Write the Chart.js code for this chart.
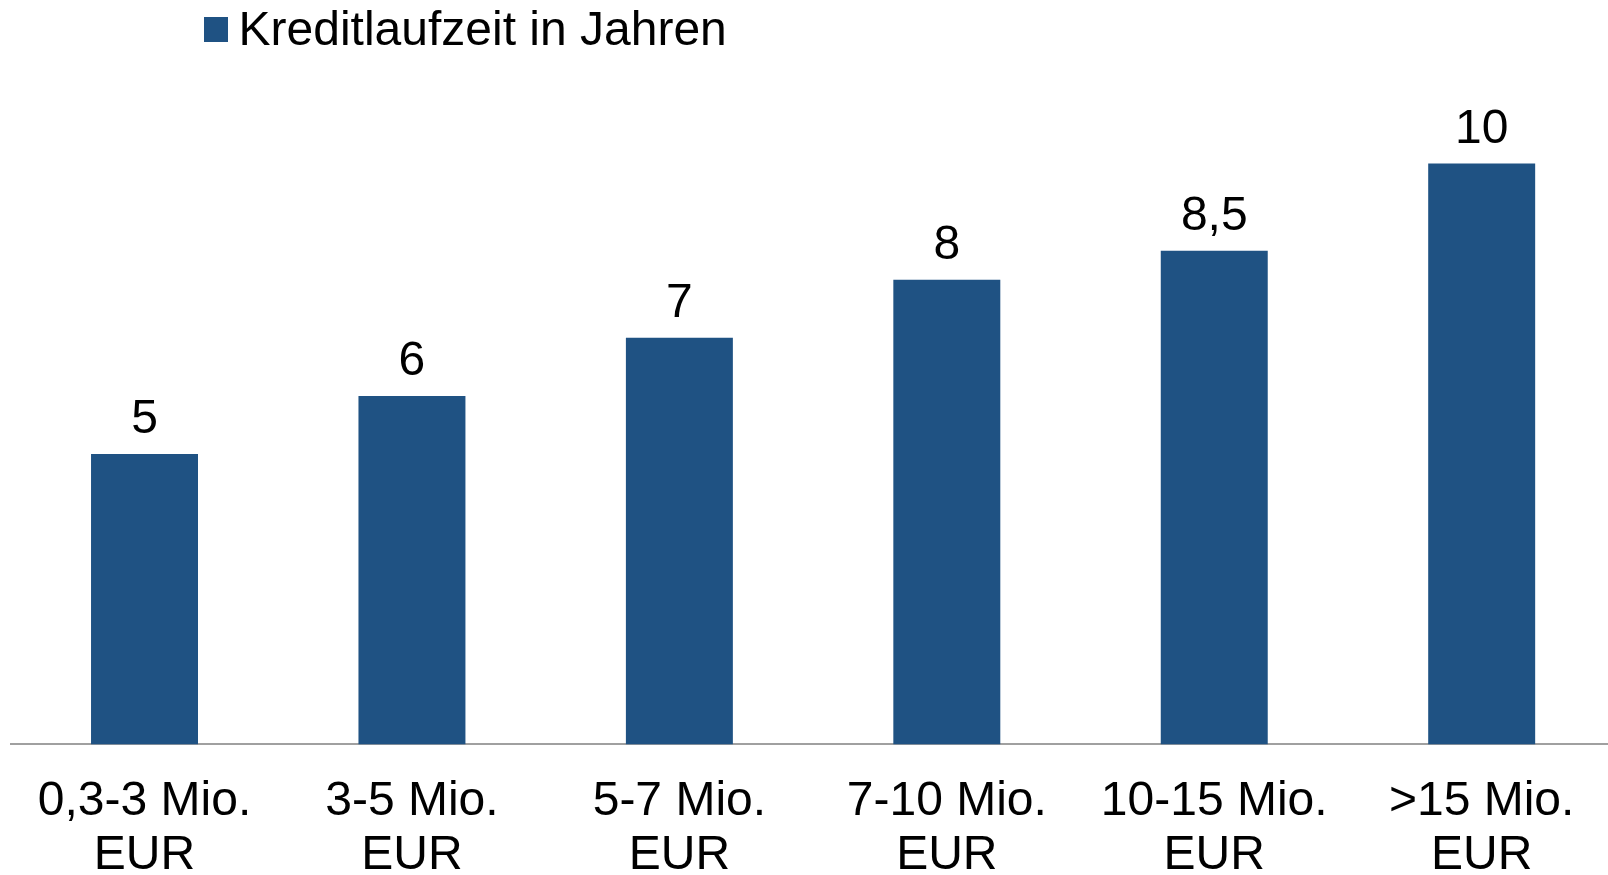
<!DOCTYPE html>
<html>
<head>
<meta charset="utf-8">
<script src="https://cdn.jsdelivr.net/npm/chart.js@4"></script>
<style>
  html, body { margin: 0; padding: 0; background: #ffffff; overflow: hidden; }
  #wrap { width: 1608px; height: 875px; overflow: hidden; }
  canvas { display: block; }
</style>
</head>
<body>
<div id="wrap"><canvas id="c" width="1620" height="913" style="width:1620px;height:913px"></canvas></div>
<script>
const categories = [
  ["0,3-3 Mio.", "EUR"],
  ["3-5 Mio.", "EUR"],
  ["5-7 Mio.", "EUR"],
  ["7-10 Mio.", "EUR"],
  ["10-15 Mio.", "EUR"],
  [">15 Mio.", "EUR"]
];
const values = [5, 6, 7, 8, 8.5, 10];
const seriesLabel = "Kreditlaufzeit in Jahren";

const FONT = '"Liberation Sans", Arial, Helvetica, sans-serif';
const BAR_COLOR = '#1f5283';

const valueLabels = {
  id: 'valueLabels',
  afterDatasetsDraw(chart) {
    const ctx = chart.ctx;
    ctx.save();
    ctx.font = '48px ' + FONT;
    ctx.fillStyle = '#000000';
    ctx.textAlign = 'center';
    ctx.textBaseline = 'alphabetic';
    chart.data.datasets.forEach((ds, di) => {
      chart.getDatasetMeta(di).data.forEach((bar, i) => {
        const txt = String(ds.data[i]).replace('.', ',');
        ctx.fillText(txt, bar.x, bar.y - 21);
      });
    });
    ctx.restore();
  }
};

const customLegend = {
  id: 'customLegend',
  afterDraw(chart) {
    const ctx = chart.ctx;
    const ds = chart.data.datasets[0];
    ctx.save();
    ctx.fillStyle = ds.backgroundColor;
    ctx.fillRect(204, 17, 24, 25);
    ctx.font = '48px ' + FONT;
    ctx.fillStyle = '#000000';
    ctx.textAlign = 'left';
    ctx.textBaseline = 'alphabetic';
    ctx.fillText(ds.label, 238.5, 44.5);
    ctx.restore();
  }
};

new Chart(document.getElementById('c'), {
  type: 'bar',
  data: {
    labels: categories,
    datasets: [{
      label: seriesLabel,
      data: values,
      backgroundColor: BAR_COLOR,
      borderWidth: 0,
      categoryPercentage: 0.8,
      barPercentage: 0.5
    }]
  },
  options: {
    responsive: false,
    devicePixelRatio: 1,
    animation: false,
    layout: { padding: { left: 10.8, right: 4.6, top: 47.4, bottom: 0 } },
    plugins: {
      legend: { display: false },
      tooltip: { enabled: false },
      title: { display: false }
    },
    scales: {
      x: {
        z: 1,
        grid: { display: false, drawTicks: false },
        border: { display: true, color: '#a0a0a0', width: 2 },
        ticks: {
          color: '#000000',
          padding: 31,
          maxRotation: 0,
          autoSkip: false,
          font: { family: FONT, size: 48, lineHeight: 1.11 }
        }
      },
      y: {
        display: false,
        min: 0,
        max: 12
      }
    }
  },
  plugins: [valueLabels, customLegend]
});
</script>
</body>
</html>
